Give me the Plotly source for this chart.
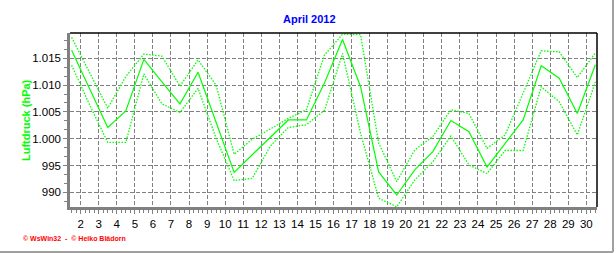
import plotly.graph_objects as go

# ---- data (hPa, daily values plotted at noon) ----
days = list(range(1, 31))
mean_p = [1016.5, 1009.3, 1002.1, 1005.2, 1014.8, 1010.6, 1006.5, 1012.4, 1003.0, 993.7,
          997.0, 1000.3, 1003.5, 1003.5, 1010.4, 1018.5, 1009.7, 993.8, 989.5, 994.2,
          997.6, 1003.4, 1001.3, 994.7, 999.0, 1003.5, 1013.6, 1011.3, 1004.7, 1013.8]
max_p = [1018.9, 1012.3, 1005.7, 1011.6, 1015.8, 1015.4, 1009.8, 1014.7, 1010.0, 997.1,
         999.9, 1001.8, 1003.8, 1005.4, 1015.6, 1019.5, 1019.4, 999.2, 992.0, 997.9,
         1000.4, 1005.4, 1004.7, 998.2, 1000.7, 1008.5, 1016.4, 1016.2, 1011.4, 1016.0]
min_p = [1013.7, 1006.3, 999.3, 999.3, 1012.1, 1006.5, 1004.9, 1009.4, 1000.1, 992.2,
         992.6, 998.6, 1002.1, 1002.6, 1005.3, 1015.9, 1001.0, 988.9, 987.3, 992.3,
         995.7, 1000.5, 995.1, 993.5, 997.8, 997.8, 1009.7, 1006.9, 1000.7, 1010.6]

x_ticks = list(range(2, 31))
y_ticks = [990, 995, 1000, 1005, 1010, 1015]
y_tick_text = ["990", "995", "1.000", "1.005", "1.010", "1.015"]

title_text = "April 2012"
y_title = "Luftdruck (hPa)"
footer = "\u00a9 WsWin32  -  \u00a9 Heiko Blädorn"

xs = [d + 0.5 for d in days]
GREEN = "#00ff00"
GRAY = "#808080"
FONT = "Liberation Sans, Arial, sans-serif"

fig = go.Figure()
fig.add_trace(go.Scatter(x=xs, y=max_p, mode="lines",
                         line=dict(color=GREEN, width=1.3, dash="1.5px,1.5px"), hoverinfo="skip"))
fig.add_trace(go.Scatter(x=xs, y=min_p, mode="lines",
                         line=dict(color=GREEN, width=1.3, dash="1.5px,1.5px"), hoverinfo="skip"))
fig.add_trace(go.Scatter(x=xs, y=mean_p, mode="lines",
                         line=dict(color=GREEN, width=1.2), hoverinfo="skip"))

W, H = 616, 253
L, R, T, B = 70, 19, 33, 46
pw, ph = W - L - R, H - T - B

def px2paper_x(px):
    return (px - L) / pw

def py2paper_y(py):
    return (H - B - py) / ph

fig.update_layout(
    width=W, height=H, autosize=False,
    margin=dict(l=L, r=R, t=T, b=B, pad=0),
    paper_bgcolor="white", plot_bgcolor="white",
    showlegend=False,
    font=dict(family=FONT, size=11, color="black"),
    xaxis=dict(
        range=[1.41, 30.59], tickmode="array", tickvals=x_ticks,
        ticktext=[str(v) for v in x_ticks],
        showgrid=True, gridcolor=GRAY, gridwidth=1, griddash="4px,2px",
        showline=True, linecolor=GRAY, linewidth=2.5,
        ticks="outside", ticklen=4, tickcolor=GRAY, tickwidth=1,
        minor=dict(tickmode="linear", tick0=0, dtick=0.25, ticks="outside",
                   ticklen=3, tickcolor=GRAY, showgrid=False),
        zeroline=False, fixedrange=True,
        tickfont=dict(family=FONT, size=11.5, color="black"),
    ),
    yaxis=dict(
        range=[987.26, 1019.72], tickmode="array", tickvals=y_ticks, ticktext=y_tick_text,
        showgrid=True, gridcolor=GRAY, gridwidth=1, griddash="4px,2px",
        showline=True, linecolor=GRAY, linewidth=2.5,
        ticks="outside", ticklen=4, tickcolor=GRAY, tickwidth=1,
        minor=dict(tickmode="linear", tick0=990, dtick=5 / 3, ticks="outside",
                   ticklen=3, tickcolor=GRAY, showgrid=False),
        zeroline=False, fixedrange=True,
        tickfont=dict(family=FONT, size=11.5, color="black"),
    ),
    shapes=[
        # top and right black frame of plot area
        dict(type="line", xref="paper", yref="paper", x0=0, x1=1, y0=1, y1=1,
             line=dict(color="black", width=1.5)),
        dict(type="line", xref="paper", yref="paper", x0=1, x1=1, y0=0, y1=1,
             line=dict(color="black", width=1.5)),
        # outer image frame (right & bottom)
        dict(type="line", xref="paper", yref="paper",
             x0=px2paper_x(613), x1=px2paper_x(613), y0=py2paper_y(0), y1=py2paper_y(252),
             line=dict(color="#a0a0a0", width=2)),
        dict(type="line", xref="paper", yref="paper",
             x0=px2paper_x(0), x1=px2paper_x(613), y0=py2paper_y(252), y1=py2paper_y(252),
             line=dict(color="#a0a0a0", width=2)),
    ],
    annotations=[
        dict(text=f"<b>{title_text}</b>", xref="paper", yref="paper",
             x=px2paper_x(309), y=py2paper_y(19), xanchor="center", yanchor="middle",
             showarrow=False, font=dict(family=FONT, size=11, color="#0000ff")),
        dict(text=f"<b>{y_title}</b>", xref="paper", yref="paper", textangle=-90,
             x=px2paper_x(26), y=py2paper_y(120), xanchor="center", yanchor="middle",
             showarrow=False, font=dict(family=FONT, size=11, color=GREEN)),
        dict(text=f"<b>{footer}</b>", xref="paper", yref="paper",
             x=px2paper_x(21), y=py2paper_y(238), xanchor="left", yanchor="middle",
             showarrow=False, font=dict(family=FONT, size=7, color="#ff0000")),
    ],
)

fig.write_html("out.html", include_plotlyjs=True, config={"displayModeBar": False})
